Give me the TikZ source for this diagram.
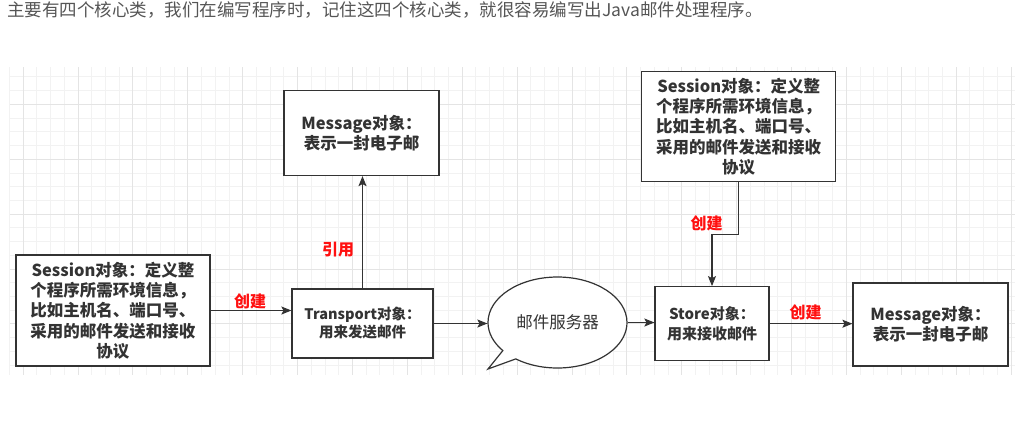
\documentclass[tikz,border=0pt]{standalone}
\usepackage{fontspec}
\setmainfont{Noto Sans CJK SC}
\usepackage{tikz}
\usetikzlibrary{arrows.meta,shapes.callouts}
\definecolor{txtgray}{HTML}{333333}
\definecolor{headgray}{HTML}{555555}
\definecolor{gridmin}{HTML}{F2F2F2}
\definecolor{gridmaj}{HTML}{E4E4E4}
\definecolor{lblred}{HTML}{FF1010}
\tikzstyle{box} = [draw=txtgray, line width=1.2pt, fill=white, align=center, inner sep=0pt, text=txtgray]
\tikzstyle{bigtxt} = [font=\fontsize{16.5}{20.3}\selectfont\bfseries]
\tikzstyle{midtxt} = [font=\fontsize{15}{19.5}\selectfont\bfseries]
\tikzstyle{arrow} = [line width=1.2pt, draw=txtgray, -{Stealth[length=10pt,width=8pt,inset=2pt]}]
\tikzstyle{lbl} = [text=lblred, font=\fontsize{16}{16}\selectfont\bfseries, inner sep=0pt]

\begin{document}
\begin{tikzpicture}[x=1pt,y=-1pt]
\useasboundingbox (0,0) rectangle (1018,424);
\node[anchor=west, inner sep=0pt, text=headgray, font=\fontsize{17.5}{20}\selectfont] (title) at (7,10)
  {主要有四个核心类，我们在编写程序时，记住这四个核心类，就很容易编写出Java邮件处理程序。};

% grid
\foreach \k in {0,...,73}
  \draw[gridmin, line width=0.8pt] ({9.4+13.72*\k},67) -- ({9.4+13.72*\k},375);
\foreach \j in {0,...,21}
  \draw[gridmin, line width=0.8pt] (10,{76.86+13.72*\j}) -- (1015,{76.86+13.72*\j});
\foreach \k in {1,5,...,73}
  \draw[gridmaj, line width=0.8pt] ({9.4+13.72*\k},67) -- ({9.4+13.72*\k},375);
\foreach \j in {2,6,...,18}
  \draw[gridmaj, line width=0.8pt] (10,{76.86+13.72*\j}) -- (1015,{76.86+13.72*\j});

% boxes
\node[box, bigtxt, minimum width=194, minimum height=111] (session1) at (113,310.5)
  {Session对象：定义整\\个程序所需环境信息，\\比如主机名、端口号、\\采用的邮件发送和接收\\协议};
\node[box, font=\fontsize{14.5}{18}\selectfont\bfseries, minimum width=141, minimum height=69] (transport) at (362.5,323.5)
  {Transport对象：\\用来发送邮件};
\node[box, bigtxt, minimum width=155, minimum height=85] (msg1) at (361.5,133)
  {Message对象：\\表示一封电子邮};
\node[ellipse callout, draw=txtgray, line width=1.2pt, fill=white, text=txtgray, inner sep=0pt,
  font=\fontsize{16.5}{20}\selectfont, minimum width=139, minimum height=91,
  callout absolute pointer={(488,369)}] (server) at (557.5,322.5) {邮件服务器};
\node[box, bigtxt, minimum width=194, minimum height=110] (session2) at (738.7,126.7)
  {Session对象：定义整\\个程序所需环境信息，\\比如主机名、端口号、\\采用的邮件发送和接收\\协议};
\node[box, midtxt, minimum width=114, minimum height=74] (store) at (712,323.7)
  {Store对象：\\用来接收邮件};
\node[box, bigtxt, minimum width=155, minimum height=83] (msg2) at (930.5,324.5)
  {Message对象：\\表示一封电子邮};

% connectors
\draw[arrow] (session1.east) -- (session1.east -| transport.west);
\draw[arrow] (transport.north) -- (transport.north |- msg1.south);
\draw[arrow] (transport.east) -- (transport.east -| server.west);
\draw[arrow] (server.east) -- (server.east -| store.west);
\draw[arrow] (session2.south) -- ++(0,52) -| (store.north);
\draw[arrow] (store.east) -- (store.east -| msg2.west);

% labels
\node[lbl] (create1) at (250,301.5) {创建};
\node[lbl] (cite) at (338,250) {引用};
\node[lbl] (create2) at (706.7,223) {创建};
\node[lbl] (create3) at (805.7,312.7) {创建};
\end{tikzpicture}
\end{document}
